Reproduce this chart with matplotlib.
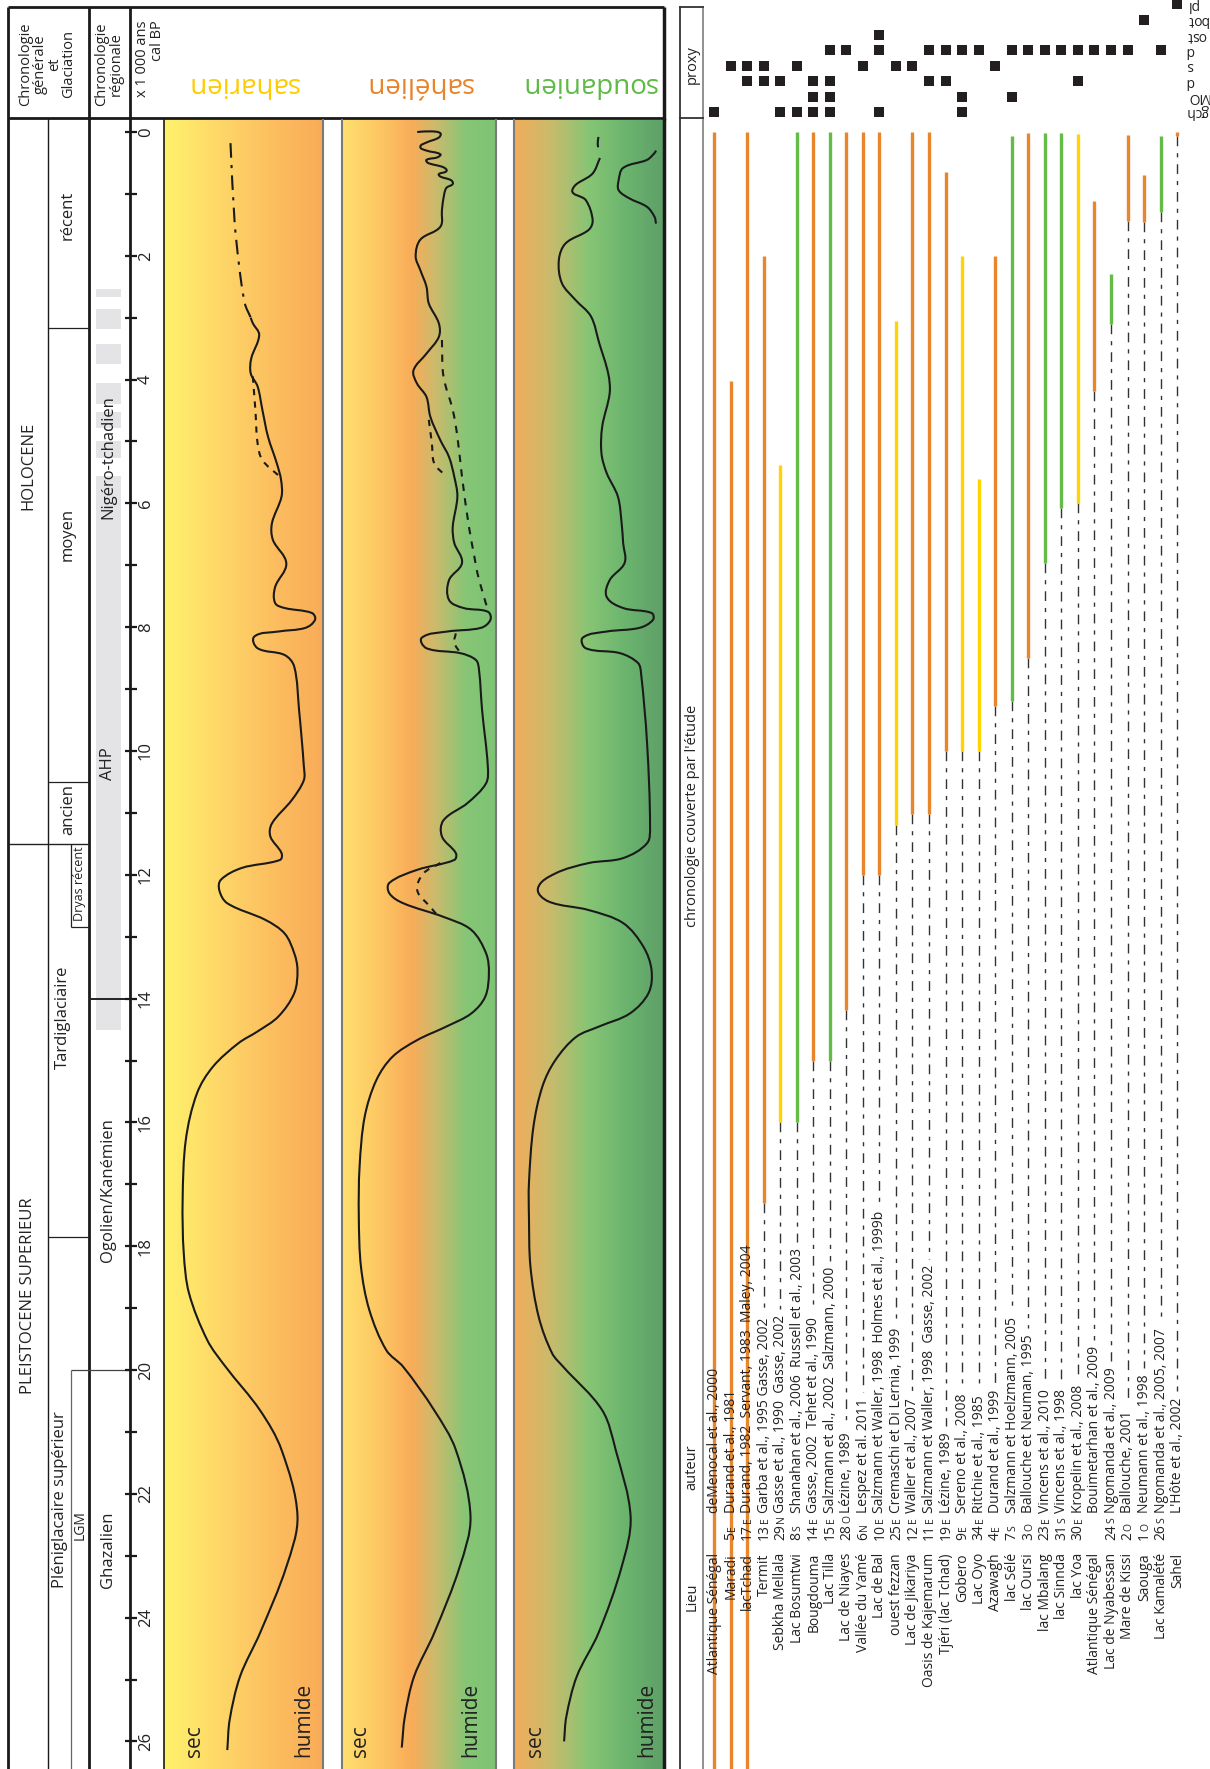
import numpy as np
import matplotlib
matplotlib.use("Agg")
import matplotlib.pyplot as plt
from matplotlib.colors import LinearSegmentedColormap
from matplotlib.path import Path
from matplotlib.patches import PathPatch

W, H, DPI = 1210, 1769, 100
Y0, PX_KA = 132.0, 61.9          # pixel row of 0 ka, pixels per ka


def ka(ypx):
    return (ypx - Y0) / PX_KA


T_TOP, T_BOT = ka(0), ka(H)

plt.rcParams['font.family'] = ['Open Sans', 'DejaVu Sans']
NARROW = ['Liberation Sans Narrow', 'Open Sans', 'DejaVu Sans']

# ---------------------------------------------------------------- data
tick_ka = list(range(0, 27))
label_ka = list(range(0, 27, 2))

ahp_blocks = [(2.53, 2.67), (2.86, 3.18), (3.42, 3.74), (4.06, 4.39),
              (4.53, 4.78), (4.99, 5.27), (5.55, 14.5)]

sahara_solid = [(3.00, 0.547), (3.09, 0.56), (3.28, 0.60), (3.66, 0.55), (3.90, 0.547),
                (4.11, 0.59), (4.49, 0.62), (4.92, 0.655), (5.35, 0.71), (5.62, 0.737),
                (5.89, 0.74), (6.32, 0.68), (6.59, 0.686), (6.97, 0.77), (7.35, 0.70),
                (7.61, 0.70), (7.69, 0.76), (7.77, 0.93), (7.88, 0.95), (8.01, 0.89),
                (8.07, 0.72), (8.15, 0.57), (8.34, 0.59), (8.45, 0.76), (8.64, 0.82),
                (9.34, 0.85), (10.25, 0.88), (10.47, 0.88), (10.79, 0.805), (11.17, 0.68),
                (11.38, 0.67), (11.65, 0.74), (11.76, 0.73), (11.89, 0.49), (12.08, 0.36),
                (12.25, 0.35), (12.46, 0.40), (12.73, 0.64), (12.95, 0.76), (13.27, 0.82),
                (13.54, 0.84), (13.91, 0.82), (14.29, 0.72), (14.53, 0.59), (14.72, 0.47),
                (15.10, 0.31), (15.53, 0.21), (16.28, 0.14), (17.25, 0.12), (18.11, 0.127),
                (18.76, 0.16), (19.52, 0.275), (19.95, 0.39), (20.65, 0.605), (21.29, 0.74),
                (22.36, 0.84), (23.18, 0.77), (24.25, 0.605), (24.95, 0.48), (25.65, 0.415),
                (26.14, 0.40)]
sahara_dashdot = [(0.18, 0.42), (1.42, 0.445), (2.18, 0.475), (2.77, 0.51), (3.00, 0.547)]
sahara_dash = [(3.95, 0.56), (4.49, 0.576), (5.03, 0.59), (5.30, 0.62), (5.57, 0.73)]

sahel_solid = [(0.00, 0.49), (-0.01, 0.58), (0.02, 0.64), (0.09, 0.63), (0.17, 0.55),
               (0.24, 0.51), (0.30, 0.55), (0.36, 0.64), (0.41, 0.62), (0.45, 0.55),
               (0.50, 0.56), (0.57, 0.66), (0.63, 0.68), (0.68, 0.63), (0.72, 0.64),
               (0.78, 0.71), (0.84, 0.72), (0.90, 0.68), (1.00, 0.665), (1.26, 0.65),
               (1.53, 0.64), (1.74, 0.51), (2.01, 0.48), (2.23, 0.51), (2.50, 0.55),
               (2.77, 0.565), (3.09, 0.63), (3.31, 0.63), (3.58, 0.55), (3.85, 0.466),
               (4.06, 0.488), (4.28, 0.55), (4.60, 0.575), (4.98, 0.64), (5.25, 0.696),
               (5.57, 0.73), (5.89, 0.75), (6.38, 0.72), (6.64, 0.73), (6.96, 0.78),
               (7.24, 0.696), (7.56, 0.696), (7.69, 0.79), (7.75, 0.947), (7.88, 0.964),
               (8.01, 0.903), (8.07, 0.685), (8.17, 0.52), (8.34, 0.55), (8.42, 0.77),
               (8.53, 0.87), (8.69, 0.89), (9.34, 0.91), (10.25, 0.947), (10.52, 0.936),
               (10.84, 0.816), (11.12, 0.66), (11.38, 0.65), (11.65, 0.74), (11.76, 0.73),
               (11.92, 0.49), (12.13, 0.31), (12.30, 0.31), (12.46, 0.40), (12.68, 0.66),
               (12.89, 0.84), (13.27, 0.936), (13.59, 0.954), (13.97, 0.93), (14.24, 0.84),
               (14.45, 0.68), (14.67, 0.49), (14.94, 0.33), (15.32, 0.225), (15.91, 0.15),
               (16.72, 0.117), (17.52, 0.112), (18.33, 0.126), (19.03, 0.18), (19.68, 0.29),
               (19.95, 0.40), (20.65, 0.60), (21.29, 0.74), (22.37, 0.835), (23.18, 0.765),
               (24.25, 0.60), (24.95, 0.47), (25.60, 0.41), (26.10, 0.39)]
sahel_dash_a = [(3.36, 0.65), (3.95, 0.66), (4.49, 0.72), (4.92, 0.75), (5.57, 0.78),
                (6.38, 0.825), (6.86, 0.86), (7.13, 0.88), (7.45, 0.915), (7.72, 0.947)]
sahel_dash_b = [(8.10, 0.74), (8.25, 0.73), (8.42, 0.77)]
sahel_dash_c = [(4.65, 0.565), (5.03, 0.585), (5.35, 0.60), (5.57, 0.68)]
sahel_dash_d = [(11.81, 0.64), (11.98, 0.53), (12.25, 0.49), (12.52, 0.575), (12.65, 0.62)]

soudan_solid = [(0.42, 0.575), (0.67, 0.526), (0.94, 0.39), (1.10, 0.48), (1.42, 0.526),
                (1.58, 0.50), (1.80, 0.345), (2.07, 0.30), (2.44, 0.32), (2.71, 0.41),
                (2.98, 0.515), (3.41, 0.57), (3.90, 0.63), (4.22, 0.64), (4.76, 0.59),
                (5.19, 0.585), (5.51, 0.62), (5.89, 0.695), (6.32, 0.72), (6.64, 0.73),
                (6.96, 0.74), (7.24, 0.64), (7.51, 0.62), (7.69, 0.73), (7.77, 0.92),
                (7.88, 0.93), (8.01, 0.84), (8.07, 0.62), (8.17, 0.46), (8.34, 0.48),
                (8.42, 0.71), (8.58, 0.83), (8.75, 0.85), (9.87, 0.89), (11.22, 0.91),
                (11.49, 0.89), (11.73, 0.73), (11.81, 0.50), (11.98, 0.275), (12.22, 0.16),
                (12.43, 0.23), (12.57, 0.50), (12.78, 0.73), (13.16, 0.865), (13.54, 0.92),
                (13.91, 0.90), (14.24, 0.775), (14.45, 0.57), (14.62, 0.415), (15.00, 0.275),
                (15.42, 0.19), (16.07, 0.13), (16.98, 0.10), (17.52, 0.10), (18.33, 0.11),
                (19.14, 0.165), (19.73, 0.255), (19.95, 0.33), (20.65, 0.59), (21.29, 0.68),
                (22.37, 0.78), (23.18, 0.72), (24.25, 0.565), (24.95, 0.42), (25.60, 0.35),
                (26.00, 0.335)]
soudan_dash = [(0.08, 0.565), (0.20, 0.56), (0.42, 0.575)]
soudan_loop = [(0.30, 0.95), (0.34, 0.94), (0.45, 0.89), (0.58, 0.73), (0.78, 0.70),
               (0.94, 0.70), (1.07, 0.77), (1.21, 0.89), (1.37, 0.94), (1.48, 0.95)]

sites = ["Atlantique Sénégal", "Maradi", "lacTchad", "Termit", "Sebkha Mellala",
         "Lac Bosumtwi", "Bougdouma", "Lac Tilla", "Lac de Niayes", "Vallée du Yamé",
         "Lac de Bal", "ouest fezzan", "Lac de Jikariya", "Oasis de Kajemarum",
         "Tjéri (lac Tchad)", "Gobero", "Lac Oyo", "Azawagh", "lac Sélé", "lac Oursi",
         "lac Mbalang", "lac Sinnda", "lac Yoa", "Atlantique Sénégal", "Lac de Nyabessan",
         "Mare de Kissi", "Saouga", "Lac Kamalété", "Sahel"]
code_num = ["", "5", "17", "13", "29", "8", "14", "15", "28", "6", "10", "25", "12", "11",
            "19", "9", "34", "4", "7", "3", "23", "31", "30", "", "24", "2", "1", "26", ""]
code_dir = ["", "E", "E", "E", "N", "S", "E", "E", "O", "N", "E", "E", "E", "E",
            "E", "E", "E", "E", "S", "O", "E", "S", "E", "", "S", "O", "O", "S", ""]
authors = ["deMenocal et al., 2000", "Durand et al., 1981",
           "Durand, 1982  Servant, 1983  Maley, 2004", "Garba et al., 1995 Gasse, 2002",
           "Gasse et al., 1990  Gasse, 2002", "Shanahan et al., 2006  Russell et al., 2003",
           "Gasse, 2002  Tehet et al., 1990", "Salzmann et al., 2002  Salzmann, 2000",
           "Lézine, 1989", "Lespez et al. 2011",
           "Salzmann et Waller, 1998  Holmes et al., 1999b", "Cremaschi et Di Lernia, 1999",
           "Waller et al., 2007", "Salzmann et Waller, 1998  Gasse, 2002", "Lézine, 1989",
           "Sereno et al., 2008", "Ritchie et al., 1985", "Durand et al., 1999",
           "Salzmann et Hoelzmann, 2005", "Ballouche et Neuman, 1995", "Vincens et al., 2010",
           "Vincens et al., 1998", "Kropelin et al., 2008", "Bouimetarhan et al., 2009",
           "Ngomanda et al., 2009", "Ballouche, 2001", "Neumann et al., 1998",
           "Ngomanda et al., 2005, 2007", "L'Hôte et al., 2002"]
zone = ["sahel", "sahel", "sahel", "sahel", "sahara", "soudan", "sahel", "soudan", "sahel",
        "sahel", "sahel", "sahara", "sahel", "sahel", "sahel", "sahara", "sahara", "sahel",
        "soudan", "sahel", "soudan", "soudan", "sahara", "sahel", "soudan", "sahel", "sahel",
        "soudan", "sahel"]
rec_start = [0.0, 4.03, 0.0, 2.0, 5.38, 0.0, 0.0, 0.0, 0.0, 0.0, 0.0, 3.05, 0.0, 0.0, 0.64,
             2.0, 5.6, 2.0, 0.07, 0.02, 0.02, 0.02, 0.03, 1.11, 2.29, 0.05, 0.7, 0.07, 0.0]
rec_end = [27.0, 27.0, 27.0, 17.3, 16.0, 16.0, 15.0, 15.0, 14.18, 12.0, 12.0, 11.2, 11.02,
           11.02, 10.0, 10.0, 10.0, 9.28, 9.19, 8.49, 6.97, 6.08, 5.99, 4.18, 3.1, 1.43,
           1.45, 1.29, 0.06]

proxy_names = ["gch", "MO", "d", "s", "d", "ost", "bot", "pl"]
proxy_sites = [[0, 4, 5, 6, 7, 10, 15],
               [6, 7, 15, 18],
               [2, 3, 4, 6, 7, 13, 14, 22],
               [1, 2, 3, 5, 9, 11, 12, 17],
               [7, 8, 10, 13, 14, 15, 16, 18, 19, 20, 21, 22, 23, 24, 25, 27],
               [10],
               [26],
               [28]]

ZONE_COLOR = {"sahara": "#FFD400", "sahel": "#E8862C", "soudan": "#62BC47"}
TITLE_COLOR = {"sahara": "#FFCC00", "sahel": "#E8842A", "soudan": "#5FBA46"}


def smooth_path(pts, scale=(155.0, 62.0)):
    """Bezier path through the read points (x, t), tangents from the neighbours."""
    P = np.array([[p[1], p[0]] for p in pts]) * np.array(scale)
    verts, codes = [P[0]], [Path.MOVETO]
    for i in range(len(P) - 1):
        q0 = P[i - 1] if i > 0 else P[i]
        q1, q2 = P[i], P[i + 1]
        q3 = P[i + 2] if i + 2 < len(P) else P[i + 1]
        seg = np.hypot(*(q2 - q1))
        d1 = q2 - q0
        d2 = q3 - q1
        d1 = d1 / max(np.hypot(*d1), 1e-9)
        d2 = d2 / max(np.hypot(*d2), 1e-9)
        verts += [q1 + d1 * seg / 3, q2 - d2 * seg / 3, q2]
        codes += [Path.CURVE4] * 3
    return Path(np.array(verts) / np.array(scale), codes)


# ---------------------------------------------------------------- figure
fig = plt.figure(figsize=(W / DPI, H / DPI), dpi=DPI)


def rect(x0, y0, x1, y1):
    return [x0 / W, 1 - y1 / H, (x1 - x0) / W, (y1 - y0) / H]


ax = fig.add_axes(rect(0, 0, W, H), label="px")
ax.set_xlim(0, W)
ax.set_ylim(H, 0)
ax.set_axis_off()

axt = fig.add_axes(rect(0, 0, W, H), label="time")
axt.set_xlim(0, W)
axt.set_ylim(T_BOT, T_TOP)
axt.set_axis_off()

K = dict(color="#1a1a1a", solid_capstyle="butt")

# frame and header
ax.plot([8, 663.5], [7, 7], lw=2, **K)
ax.plot([8, 663.5], [118, 118], lw=2, **K)
ax.plot([8, 8], [7, H], lw=2, **K)
ax.plot([663.5, 663.5], [7, 120], lw=2.5, **K)
ax.plot([88.5, 88.5], [7, H], lw=2, **K)
ax.plot([130, 130], [7, H], lw=2, **K)
ax.plot([48, 48], [118, H], lw=1, **K)

ax.text(47, 64, "Chronologie\ngénérale\net\nGlaciation", rotation=90, ha="center",
        va="center", fontsize=10.5, linespacing=0.95, color="#222")
ax.text(109, 64, "Chronologie\nrégionale", rotation=90, ha="center", va="center",
        fontsize=10.5, linespacing=0.95, color="#222")
ax.text(150, 20, "x 1 000 ans\ncal BP", rotation=90, ha="center", va="top",
        multialignment="right", fontsize=10.5, linespacing=0.95, color="#222")

# chronology columns (time coordinates)
axt.hlines([3.17, 10.5], 48, 88.5, lw=0.9, color="#222")
axt.hlines(11.5, 8, 88.5, lw=1.0, color="#222")
axt.vlines(71, 11.5, 12.85, lw=0.9, color="#222")
axt.hlines(12.85, 71, 88.5, lw=0.9, color="#222")
axt.hlines(17.85, 48, 88.5, lw=0.9, color="#222")
axt.hlines(14.0, 88.5, 130, lw=1.4, color="#222")
axt.hlines(20.0, 71, 130, lw=0.9, color="#444")
axt.vlines(71, 20.0, T_BOT, lw=0.9, color="#666")

for a, b in ahp_blocks:
    axt.bar(108.5, b - a, bottom=a, width=25, color="#E4E4E6", zorder=0)

tk = dict(rotation=90, ha="center", va="center", family=NARROW, fontsize=12, color="#222")
axt.text(28, 5.4, "HOLOCENE", **tk)
axt.text(28, 18.8, "PLEISTOCENE SUPERIEUR", **tk)
axt.text(68, 1.35, "récent", **tk)
axt.text(68, 6.5, "moyen", **tk)
axt.text(68, 10.95, "ancien", **tk)
axt.text(63, 14.3, "Tardiglaciaire", **tk)
axt.text(60, 22.1, "Pléniglacaire supérieur", **tk)
axt.text(80, 22.5, "LGM", **dict(tk, fontsize=10))
axt.text(79.5, 12.15, "Dryas récent", **dict(tk, fontsize=9))
axt.text(108, 5.25, "Nigéro-tchadien", **tk)
axt.text(108, 10.2, "AHP", **tk)
axt.text(108, 17.1, "Ogolien/Kanémien", **tk)
axt.text(108, 22.9, "Ghazalien", **tk)

axt.hlines(tick_ka, 125, 137, lw=1.6, color="#1a1a1a")
for v in label_ka:
    axt.text(146, v, str(v), rotation=90, ha="center", va="center", family=NARROW,
             fontsize=12, color="#222")

# ---------------------------------------------------------------- panels
panel_x = [(163.5, 323.0), (341.5, 496.0), (514.0, 663.5)]
panel_cmaps = [
    [(0.0, "#FFF26C"), (0.35, "#FED768"), (0.7, "#FCBD5F"), (1.0, "#F9AB57")],
    [(0.0, "#FFDF6E"), (0.25, "#FDC663"), (0.45, "#F9AC59"), (0.6, "#CDBA6C"),
     (0.8, "#86C676"), (1.0, "#7EC374")],
    [(0.0, "#F2AD5B"), (0.25, "#C8BB6C"), (0.5, "#86C575"), (0.75, "#6BB46E"),
     (1.0, "#5E9F68")],
]
panel_keys = ["sahara", "sahel", "soudan"]
panel_names = ["saharien", "sahélien", "soudanien"]
sec_x = [0.197, 0.12, 0.145]
hum_x = [0.88, 0.835, 0.886]
panel_lines = [
    [(sahara_solid, "-"), (sahara_dashdot, (0, (7, 3.5, 1.5, 3.5))), (sahara_dash, (0, (3, 3)))],
    [(sahel_solid, "-"), (sahel_dash_a, (0, (3.5, 3.5))), (sahel_dash_b, (0, (3, 3))),
     (sahel_dash_c, (0, (3, 3))), (sahel_dash_d, (0, (3, 3)))],
    [(soudan_solid, "-"), (soudan_dash, (0, (5, 6))), (soudan_loop, "-")],
]
grad = np.linspace(0, 1, 256).reshape(1, -1)
T_PANEL = ka(120)
for k, (x0, x1) in enumerate(panel_x):
    pa = fig.add_axes(rect(x0, 120, x1, H), label=panel_keys[k])
    cmap = LinearSegmentedColormap.from_list(panel_keys[k], panel_cmaps[k])
    pa.imshow(grad, cmap=cmap, extent=[0, 1, T_BOT, T_PANEL], aspect="auto",
              interpolation="bilinear", zorder=0)
    for pts, ls in panel_lines[k]:
        pa.add_patch(PathPatch(smooth_path(pts), fill=False, ec="#1a1a1a", lw=1.5,
                               ls=ls, joinstyle="round", zorder=2))
    pa.set_xlim(0, 1)
    pa.set_ylim(T_BOT, T_PANEL)
    pa.set_xticks([])
    pa.set_yticks([])
    for s in ("top", "bottom"):
        pa.spines[s].set_visible(False)
    pa.spines["left"].set_color("#1a1a1a" if k == 0 else "#7a7a7a")
    pa.spines["left"].set_linewidth(1.2 if k == 0 else 1.5)
    pa.spines["right"].set_color("#1a1a1a" if k == 2 else "#7a7a7a")
    pa.spines["right"].set_linewidth(2.5 if k == 2 else 1.5)
    pa.text(sec_x[k], ka(1757), "sec", rotation=90, ha="center", va="bottom",
            fontsize=15, color="#222")
    pa.text(hum_x[k], ka(1757), "humide", rotation=90, ha="center", va="bottom",
            fontsize=15, color="#222")
    ax.text((x0 + x1) / 2, 84, panel_names[k], rotation=180, ha="center", va="center",
            fontsize=20, color=TITLE_COLOR[panel_keys[k]])

# ---------------------------------------------------------------- records
XL = (680 - 714) / 16.54
XR = (1210 - 714) / 16.54
axb = fig.add_axes(rect(680, 0, 1210, H), label="records")
axb.set_xlim(XL, XR)
axb.set_ylim(T_BOT, T_TOP)
axb.set_axis_off()

ax.plot([680, 680], [7, H], lw=1.3, color="#333")
ax.plot([703, 703], [7, H], lw=1.3, color="#888")
ax.plot([680, 703], [7, 7], lw=1.3, color="#333")
ax.plot([680, 703], [118, 118], lw=1.3, color="#333")
ax.text(692, 65, "proxy", rotation=90, ha="center", va="center", fontsize=10.5, color="#222")
ax.text(692, 816, "chronologie couverte par l'étude", rotation=90, ha="center",
        va="center", fontsize=10.5, color="#222")
ax.text(692, 1467, "auteur", rotation=90, ha="center", va="center", fontsize=10.5,
        color="#222")
ax.text(692, 1597, "Lieu", rotation=90, ha="center", va="center", fontsize=10.5,
        color="#222")

n = len(sites)
idx = np.arange(n)
axb.vlines(idx, rec_start, rec_end, colors=[ZONE_COLOR[z] for z in zone], lw=2.4, zorder=2)

BASE = 0.24
txt = dict(rotation=90, rotation_mode="anchor", va="baseline", fontsize=10, color="#222",
           zorder=3)
t_site, t_code, t_auth = ka(1553), ka(1540), ka(1513)
num_txt, auth_txt = [], []
for i in range(n):
    axb.text(i + BASE, t_site, sites[i], ha="right", **txt)
    num_txt.append(axb.text(i + BASE, t_code, code_num[i], ha="left", **txt))
    auth_txt.append(axb.text(i + BASE, t_auth, authors[i], ha="left", **txt))

fig.canvas.draw()
r = fig.canvas.get_renderer()
inv = axb.transData.inverted()
for i in range(n):
    if code_num[i]:
        bb = num_txt[i].get_window_extent(r)
        t_top = inv.transform((0, bb.y1))[1]
        axb.text(i + BASE, t_top - 0.02, code_dir[i], ha="left",
                 **dict(txt, fontsize=7.5))
    bb = auth_txt[i].get_window_extent(r)
    t_top = inv.transform((0, bb.y1))[1] - 0.1
    if rec_end[i] < t_top:
        axb.plot([i, i], [rec_end[i], t_top], color="#333", lw=1.0,
                 ls=(0, (7, 5, 3, 5)), zorder=1)

# ---------------------------------------------------------------- proxies
axp = fig.add_axes(rect(680, 0, 1210, 125), label="proxy")
axp.set_xlim(XL, XR)
axp.set_ylim((112 - 125) / 15.4, 112 / 15.4)
axp.set_axis_off()
for k, cols in enumerate(proxy_sites):
    axp.plot(cols, [k] * len(cols), "s", color="#231F20", ms=7.5, mew=0)
    axp.text(28.55, k, proxy_names[k], rotation=180, ha="left", va="center",
             fontsize=10, color="#222")

fig.savefig("out.png", dpi=DPI)
